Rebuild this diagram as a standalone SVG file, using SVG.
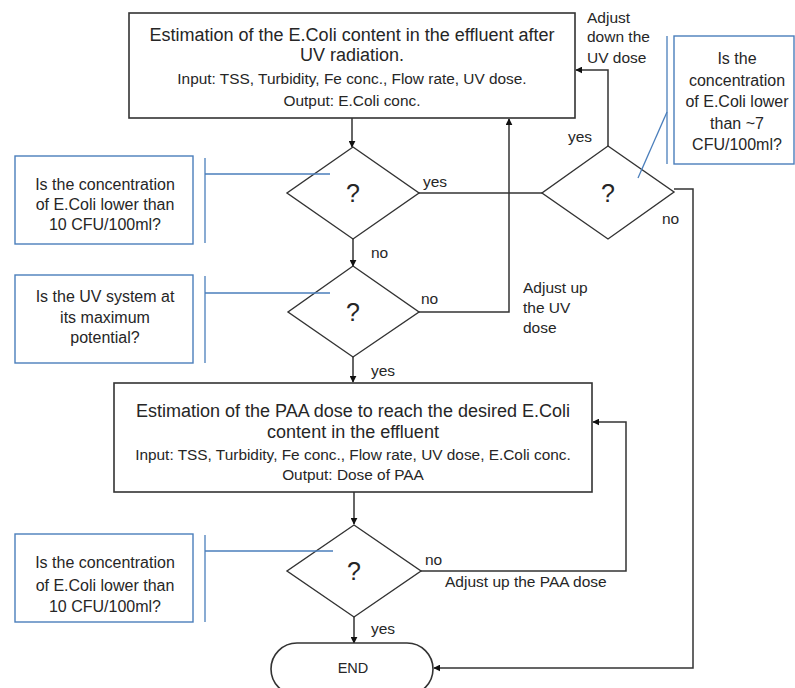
<svg xmlns="http://www.w3.org/2000/svg" width="795" height="688" viewBox="0 0 795 688">
<defs>
<marker id="arr" viewBox="0 0 10 10" refX="9" refY="5" markerWidth="7" markerHeight="7" orient="auto" markerUnits="userSpaceOnUse">
<path d="M0,0 L10,5 L0,10 z" fill="#111"/>
</marker>
</defs>
<style>
.box{fill:#fff;stroke:#333;stroke-width:1.6}
.dia{fill:#fff;stroke:#333;stroke-width:1.4}
.cb{fill:#fff;stroke:#4a7ebb;stroke-width:1.4}
.bl{fill:none;stroke:#4a7ebb;stroke-width:1.3}
.ln{fill:none;stroke:#333;stroke-width:1.5}
text{font-family:"Liberation Sans",Arial,sans-serif;fill:#262626}
.t1{font-size:18px;text-anchor:middle}
.t2{font-size:15.4px;text-anchor:middle}
.q{font-size:25px;text-anchor:middle}
.lb{font-size:15.5px}
.cm{font-size:16px;text-anchor:middle}
.en{font-size:14.5px;text-anchor:middle}
</style>
<rect width="795" height="688" fill="#fff"/>

<g id="connectors">
<line class="ln" x1="352" y1="118" x2="352" y2="147" marker-end="url(#arr)"/>
<line class="ln" x1="353" y1="239" x2="353" y2="266" marker-end="url(#arr)"/>
<line class="ln" x1="353" y1="357" x2="353" y2="382" marker-end="url(#arr)"/>
<line class="ln" x1="354" y1="492" x2="354" y2="524" marker-end="url(#arr)"/>
<line class="ln" x1="354" y1="617" x2="354" y2="643" marker-end="url(#arr)"/>
<line class="ln" x1="419" y1="193" x2="542" y2="193"/>
<polyline class="ln" points="419,312 509,312 509,119" marker-end="url(#arr)"/>
<polyline class="ln" points="608,146 608,70 576,70" marker-end="url(#arr)"/>
<polyline class="ln" points="674,189 693,189 693,668 434,668" marker-end="url(#arr)"/>
<polyline class="ln" points="421,571 626,571 626,422 593,422" marker-end="url(#arr)"/>
<text class="lb" x="423" y="187">yes</text>
<text class="lb" x="371" y="258">no</text>
<text class="lb" x="421" y="304">no</text>
<text class="lb" x="371" y="376">yes</text>
<text class="lb" x="568" y="142">yes</text>
<text class="lb" x="662" y="224">no</text>
<text class="lb" x="425" y="565">no</text>
<text class="lb" x="371" y="634">yes</text>
<text class="lb" x="587" y="23">Adjust</text>
<text class="lb" x="587" y="42">down the</text>
<text class="lb" x="587" y="63">UV dose</text>
<text class="lb" x="523" y="293">Adjust up</text>
<text class="lb" x="523" y="313">the UV</text>
<text class="lb" x="523" y="333">dose</text>
<text class="lb" x="445" y="587">Adjust up the PAA dose</text>
</g>

<g id="uv-estimation">
<rect class="box" x="129" y="13" width="446" height="105"/>
<text class="t1" x="352" y="41">Estimation of the E.Coli content in the effluent after</text>
<text class="t1" x="352" y="61">UV radiation.</text>
<text class="t2" x="352" y="84">Input: TSS, Turbidity, Fe conc., Flow rate, UV dose.</text>
<text class="t2" x="352" y="106">Output: E.Coli conc.</text>
</g>

<g id="decision1">
<polygon class="dia" points="353,147 419,193 353,239 287,193"/>
<text class="q" x="353" y="202">?</text>
</g>

<g id="decision2">
<polygon class="dia" points="353,266 419,312 353,357 288,312"/>
<text class="q" x="353" y="321">?</text>
</g>

<g id="decision-uv-low">
<polygon class="dia" points="608,146 674,192 608,239 542,193"/>
<text class="q" x="608" y="202">?</text>
</g>

<g id="paa-estimation">
<rect class="box" x="114" y="383" width="478" height="109"/>
<text class="t1" x="353" y="417">Estimation of the PAA dose to reach the desired  E.Coli</text>
<text class="t1" x="353" y="438">content in the effluent</text>
<text class="t2" x="353" y="460">Input: TSS, Turbidity, Fe conc., Flow rate, UV dose, E.Coli conc.</text>
<text class="t2" x="353" y="480">Output: Dose of PAA</text>
</g>

<g id="decision3">
<polygon class="dia" points="354,525 421,571 354,617 287,571"/>
<text class="q" x="354" y="580">?</text>
</g>

<g id="end">
<rect class="box" x="271" y="643" width="162" height="52" rx="26"/>
<text class="en" x="353" y="673">END</text>
</g>

<g id="note1">
<rect class="cb" x="15" y="156" width="178" height="88"/>
<line class="bl" x1="205" y1="158" x2="205" y2="243"/>
<line class="bl" x1="205" y1="174" x2="330" y2="174"/>
<text class="cm" x="105" y="190">Is the concentration</text>
<text class="cm" x="105" y="210">of E.Coli lower than</text>
<text class="cm" x="105" y="230">10 CFU/100ml?</text>
</g>

<g id="note2">
<rect class="cb" x="15" y="275" width="178" height="88"/>
<line class="bl" x1="205" y1="276" x2="205" y2="363"/>
<line class="bl" x1="205" y1="293" x2="330" y2="293"/>
<text class="cm" x="105" y="302">Is the UV system at</text>
<text class="cm" x="105" y="323">its maximum</text>
<text class="cm" x="105" y="343">potential?</text>
</g>

<g id="note3">
<rect class="cb" x="15" y="534" width="178" height="88"/>
<line class="bl" x1="205" y1="535" x2="205" y2="622"/>
<line class="bl" x1="205" y1="551" x2="333" y2="551"/>
<text class="cm" x="105" y="568">Is the concentration</text>
<text class="cm" x="105" y="591">of E.Coli lower than</text>
<text class="cm" x="105" y="612">10 CFU/100ml?</text>
</g>

<g id="note4">
<rect class="cb" x="674" y="36" width="120" height="128"/>
<line class="bl" x1="667" y1="36" x2="667" y2="164"/>
<line class="bl" x1="667" y1="112" x2="638" y2="178"/>
<text class="cm" x="737" y="64">Is the</text>
<text class="cm" x="737" y="86">concentration</text>
<text class="cm" x="737" y="107">of E.Coli lower</text>
<text class="cm" x="737" y="129">than ~7</text>
<text class="cm" x="737" y="150">CFU/100ml?</text>
</g>
</svg>
